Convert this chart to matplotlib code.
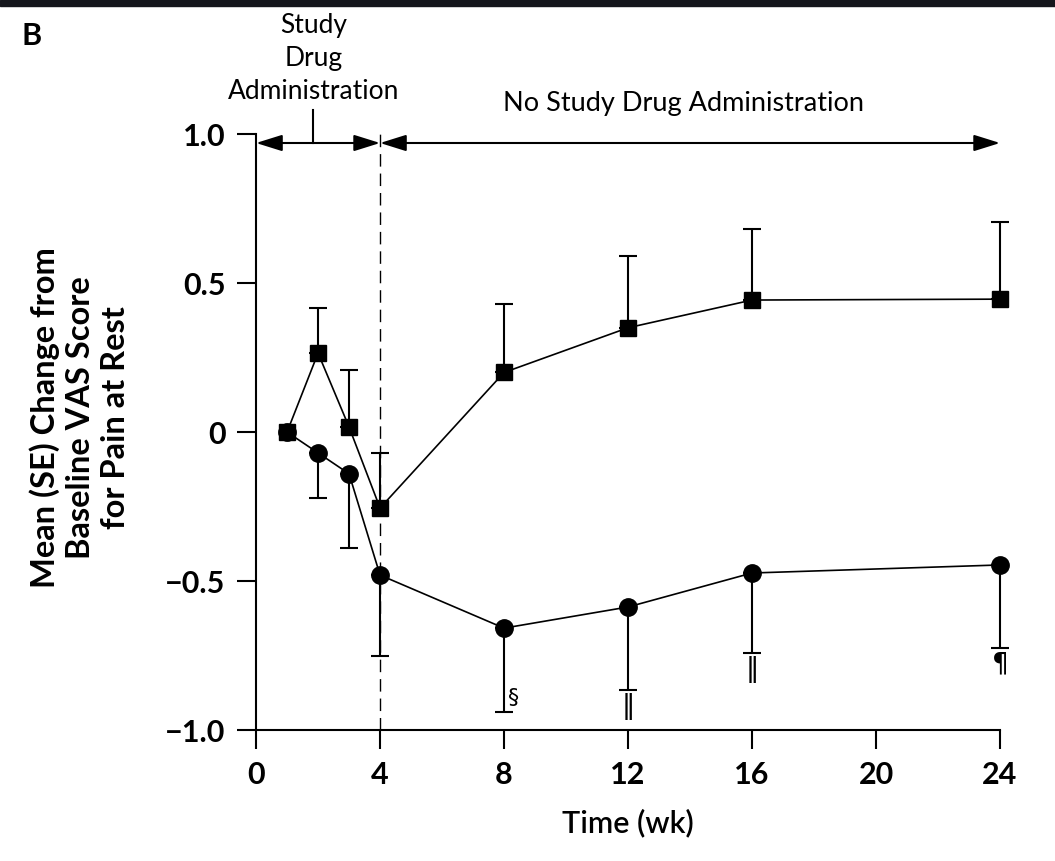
import matplotlib.pyplot as plt
from matplotlib.patches import Rectangle

# data
weeks = [1, 2, 3, 4, 8, 12, 16, 24]
square_mean = [0.0, 0.265, 0.017, -0.255, 0.20, 0.35, 0.443, 0.446]
square_se = [0.0, 0.15, 0.19, 0.185, 0.23, 0.24, 0.24, 0.26]
circle_mean = [0.0, -0.07, -0.14, -0.48, -0.658, -0.587, -0.473, -0.446]
circle_se = [0.0, 0.15, 0.25, 0.27, 0.28, 0.28, 0.27, 0.28]
circle_marks = ['', '', '', '', '§', '‖', '‖', '¶']

xticks = [0, 4, 8, 12, 16, 20, 24]
yticks = [-1.0, -0.5, 0, 0.5, 1.0]
ytick_labels = ['\u22121.0', '\u22120.5', '0', '0.5', '1.0']

plt.rcParams['font.family'] = ['Lato', 'DejaVu Sans']

fig = plt.figure(figsize=(10.55, 8.61), dpi=100)
ax = fig.add_axes([0.2427, 0.1521, 0.7052, 0.6922])

# dark strip at the top edge of the scan
fig.patches.append(Rectangle((0, 0.993), 1, 0.007, transform=fig.transFigure,
                             color='#15161c', zorder=0))

# error bars (one sided)
n = len(weeks)
ax.errorbar(weeks[1:], square_mean[1:], yerr=[[0] * (n - 1), square_se[1:]],
            fmt='none', ecolor='black', elinewidth=1.5, capsize=6.5, capthick=1.5,
            zorder=2, clip_on=False)
ax.errorbar(weeks[1:], circle_mean[1:], yerr=[circle_se[1:], [0] * (n - 1)],
            fmt='none', ecolor='black', elinewidth=1.5, capsize=6.5, capthick=1.5,
            zorder=2, clip_on=False)

ax.plot(weeks, square_mean, color='black', lw=1.2, marker='s', markersize=11.5,
        zorder=3, clip_on=False)
ax.plot(weeks, circle_mean, color='black', lw=1.2, marker='o', markersize=12.5,
        zorder=3, clip_on=False)

# significance marks under the lower caps
for w, m, s, mark in zip(weeks, circle_mean, circle_se, circle_marks):
    if not mark:
        continue
    if mark == '§':
        ax.annotate(mark, (w, m - s), xytext=(3, 10), textcoords='offset points',
                    ha='left', va='center', fontsize=16, family='DejaVu Sans')
    else:
        ax.annotate(mark, (w, m - s), xytext=(0, -2), textcoords='offset points',
                    ha='center', va='top', fontsize=19, family='DejaVu Sans')

# study drug period marker
ax.plot([4, 4], [-1, 1], color='black', lw=1, linestyle=(0, (9, 5)), zorder=1)
arrow_y = 0.97
for x0, x1 in [(0, 4), (4, 24)]:
    ax.annotate('', xy=(x1, arrow_y), xytext=(x0, arrow_y),
                arrowprops=dict(arrowstyle='<|-|>,head_length=0.8,head_width=0.25',
                                mutation_scale=20, color='black', lw=1.5,
                                shrinkA=0, shrinkB=0),
                annotation_clip=False)
ax.plot([1.85, 1.85], [arrow_y, 1.08], color='black', lw=1.5, clip_on=False)
ax.text(1.85, 1.1, 'Study\nDrug\nAdministration', ha='center', va='bottom',
        fontsize=19, linespacing=1.4)
ax.text(13.8, 1.06, 'No Study Drug Administration', ha='center', va='bottom', fontsize=19.5)

ax.set_xlim(0, 24)
ax.set_ylim(-1, 1)
ax.set_xticks(xticks)
ax.set_yticks(yticks)
ax.set_yticklabels(ytick_labels)
for lab in ax.get_xticklabels() + ax.get_yticklabels():
    lab.set_fontweight('bold')
    lab.set_fontsize(22)
ax.tick_params(axis='both', direction='out', length=14, width=1.5, pad=8)

for side in ['top', 'right']:
    ax.spines[side].set_visible(False)
for side in ['left', 'bottom']:
    ax.spines[side].set_linewidth(1.5)

ax.set_xlabel('Time (wk)', fontsize=22, fontweight='semibold', labelpad=14)
ax.set_ylabel('Mean (SE) Change from\nBaseline VAS Score\nfor Pain at Rest',
              fontsize=23.5, fontweight='bold', linespacing=1.25)
ax.yaxis.set_label_coords(-0.17, 0.525)

fig.text(0.02, 0.975, 'B', fontsize=22, fontweight='bold', va='top')

fig.savefig('out.png', dpi=100)
